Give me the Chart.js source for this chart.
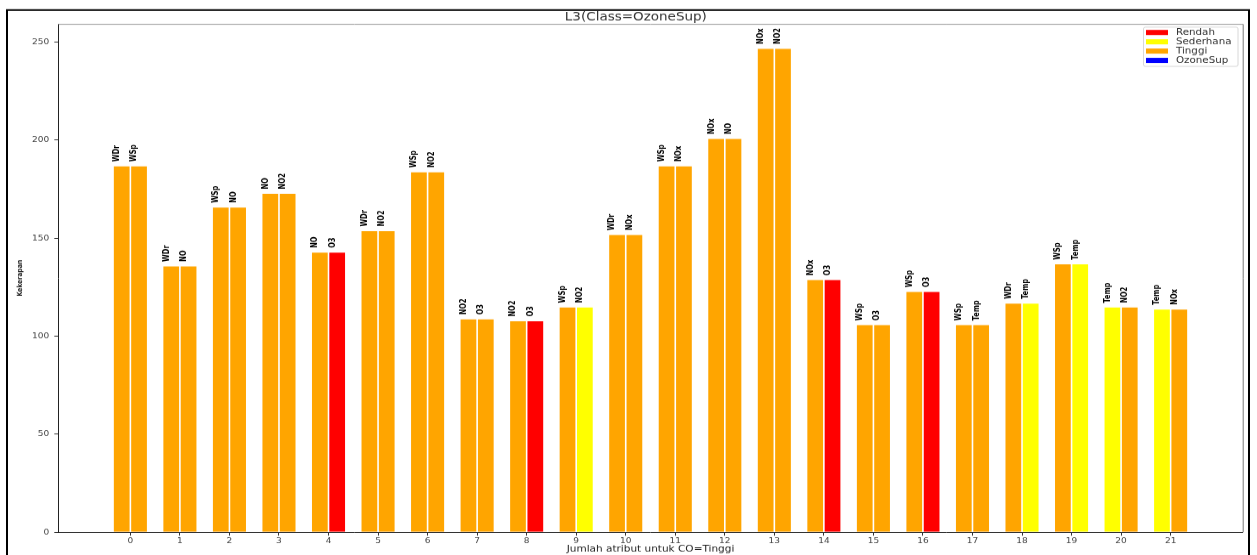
<!DOCTYPE html>
<html>
<head>
<meta charset="utf-8">
<script src="https://cdn.jsdelivr.net/npm/chart.js@4/dist/chart.umd.min.js"></script>
<style>
  html, body { margin: 0; padding: 0; background: #fff; overflow: hidden; }
  #wrap { width: 1257px; height: 653px; transform: scale(1, 0.8499); transform-origin: 0 0; }
  canvas { display: block; }
</style>
</head>
<body>
<div id="wrap"><canvas id="chart" width="1257" height="653"></canvas></div>
<script>
// Group index along the x axis
const categories = [0, 1, 2, 3, 4, 5, 6, 7, 8, 9, 10, 11, 12, 13, 14, 15, 16, 17, 18, 19, 20, 21];

// Counts for the left and right bar of each group
const firstValues  = [187, 136, 166, 173, 143, 154, 184, 109, 108, 115, 152, 187, 201, 247, 129, 106, 123, 106, 117, 137, 115, 114];
const secondValues = [187, 136, 166, 173, 143, 154, 184, 109, 108, 115, 152, 187, 201, 247, 129, 106, 123, 106, 117, 137, 115, 114];

// Attribute printed above each bar
const firstAttrs  = ['WDr', 'WDr', 'WSp', 'NO', 'NO', 'WDr', 'WSp', 'NO2', 'NO2', 'WSp', 'WDr', 'WSp', 'NOx', 'NOx', 'NOx', 'WSp', 'WSp', 'WSp', 'WDr', 'WSp', 'Temp', 'Temp'];
const secondAttrs = ['WSp', 'NO', 'NO', 'NO2', 'O3', 'NO2', 'NO2', 'O3', 'O3', 'NO2', 'NOx', 'NOx', 'NO', 'NO2', 'O3', 'O3', 'O3', 'Temp', 'Temp', 'Temp', 'NO2', 'NOx'];

// Level of each bar (drives its colour)
const firstLevels  = ['Tinggi', 'Tinggi', 'Tinggi', 'Tinggi', 'Tinggi', 'Tinggi', 'Tinggi', 'Tinggi', 'Tinggi', 'Tinggi', 'Tinggi', 'Tinggi', 'Tinggi', 'Tinggi', 'Tinggi', 'Tinggi', 'Tinggi', 'Tinggi', 'Tinggi', 'Tinggi', 'Sederhana', 'Sederhana'];
const secondLevels = ['Tinggi', 'Tinggi', 'Tinggi', 'Tinggi', 'Rendah', 'Tinggi', 'Tinggi', 'Tinggi', 'Rendah', 'Sederhana', 'Tinggi', 'Tinggi', 'Tinggi', 'Tinggi', 'Rendah', 'Tinggi', 'Rendah', 'Tinggi', 'Sederhana', 'Sederhana', 'Tinggi', 'Tinggi'];

// Legend entries
const legendLabels = ['Rendah', 'Sederhana', 'Tinggi', 'OzoneSup'];
const legendColors = ['#ff0000', '#ffff00', '#ffa500', '#0000ff'];

// Y axis ticks
const yTickValues = [0, 50, 100, 150, 200, 250];

const colorOf = lvl => legendColors[legendLabels.indexOf(lvl)];
const FONT = '"DejaVu Sans", Verdana, sans-serif';

// White figure background with a dark outer frame
const figureFrame = {
  id: 'figureFrame',
  beforeDraw(chart) {
    const { ctx, width, height } = chart;
    ctx.save();
    ctx.fillStyle = '#fff';
    ctx.fillRect(0, 0, width, height);
    ctx.strokeStyle = '#000';
    ctx.lineWidth = 2;
    ctx.strokeRect(7, 11.8, 1242, height + 20);
    ctx.restore();
  }
};

// Top and right spines of the axes box
const axesBox = {
  id: 'axesBox',
  afterDraw(chart) {
    const { ctx, chartArea: a } = chart;
    ctx.save();
    ctx.lineWidth = 1;
    ctx.strokeStyle = '#9a9a9a';
    ctx.beginPath();
    ctx.moveTo(a.left, a.top + 0.5);
    ctx.lineTo(a.right + 0.5, a.top + 0.5);
    ctx.stroke();
    ctx.strokeStyle = '#777';
    ctx.beginPath();
    ctx.moveTo(a.right + 0.5, a.top + 0.5);
    ctx.lineTo(a.right + 0.5, a.bottom);
    ctx.stroke();
    ctx.restore();
  }
};

// Vertical attribute names above the bars
const labelGap = 2;
const barLabels = {
  id: 'barLabels',
  afterDatasetsDraw(chart) {
    const { ctx } = chart;
    const yScale = chart.scales.y;
    ctx.save();
    ctx.font = 'bold 8px ' + FONT;
    ctx.fillStyle = '#000';
    ctx.textAlign = 'left';
    ctx.textBaseline = 'top';
    chart.data.datasets.forEach((ds, di) => {
      const meta = chart.getDatasetMeta(di);
      meta.data.forEach((bar, i) => {
        const left = bar.x - bar.width / 2;
        const base = yScale.getPixelForValue(ds.data[i].y + labelGap);
        ctx.save();
        ctx.translate(left, base);
        ctx.rotate(-Math.PI / 2);
        ctx.fillText(ds.attrs[i], 0, 0);
        ctx.restore();
      });
    });
    ctx.restore();
  }
};

// Legend box in the upper right corner of the axes
const levelLegend = {
  id: 'levelLegend',
  afterDraw(chart) {
    const { ctx } = chart;
    const bx = 1143, by = 31.4, bw = 94.5, bh = 46.2;
    ctx.save();
    ctx.fillStyle = 'rgba(255,255,255,0.9)';
    ctx.strokeStyle = '#d8d8d8';
    ctx.lineWidth = 1;
    ctx.beginPath();
    ctx.roundRect(bx + 0.5, by + 0.5, bw, bh, 2);
    ctx.fill();
    ctx.stroke();
    ctx.font = '10.3px ' + FONT;
    ctx.textBaseline = 'middle';
    ctx.textAlign = 'left';
    legendLabels.forEach((name, i) => {
      const cy = 38.2 + i * 10.95;
      ctx.fillStyle = legendColors[i];
      ctx.fillRect(1146, cy - 3, 22, 6);
      ctx.fillStyle = '#333';
      ctx.fillText(name, 1176, cy + 0.5);
    });
    ctx.restore();
  }
};

const makeSet = (values, levels, attrs) => ({
  data: categories.map((c, i) => ({ x: c, y: values[i] })),
  attrs: attrs,
  backgroundColor: levels.map(colorOf),
  borderColor: 'rgba(255,255,255,0.85)',
  borderWidth: 0.8,
  borderSkipped: 'start',
  categoryPercentage: 0.7,
  barPercentage: 1.0
});

new Chart(document.getElementById('chart'), {
  type: 'bar',
  data: {
    datasets: [
      makeSet(firstValues, firstLevels, firstAttrs),
      makeSet(secondValues, secondLevels, secondAttrs)
    ]
  },
  options: {
    responsive: false,
    animation: false,
    devicePixelRatio: 1,
    layout: { padding: { left: 29, right: 14.3, top: 0, bottom: 0 } },
    plugins: {
      legend: { display: false },
      tooltip: { enabled: false },
      title: {
        display: true,
        text: 'L3(Class=OzoneSup)',
        color: '#333',
        font: { family: FONT, size: 13.5, weight: 'normal', lineHeight: 1.2 },
        padding: { top: 11.9, bottom: 0 }
      }
    },
    scales: {
      x: {
        type: 'linear',
        min: -1.455,
        max: 22.455,
        offset: false,
        afterBuildTicks: s => { s.ticks = categories.map(v => ({ value: v })); },
        afterFit: s => { s.height = 26.7; },
        ticks: {
          color: '#444',
          font: { family: FONT, size: 9 },
          padding: 1,
          autoSkip: false,
          maxRotation: 0
        },
        grid: { display: true, offset: false, drawOnChartArea: false, drawTicks: true, tickLength: 4, tickColor: '#333' },
        border: { display: true, color: '#333', width: 1 },
        title: {
          display: true,
          text: 'Jumlah atribut untuk CO=Tinggi',
          color: '#222',
          font: { family: FONT, size: 10.5, lineHeight: 1.2 },
          padding: { top: 0, bottom: 0.4 }
        }
      },
      y: {
        type: 'linear',
        min: 0,
        max: 259.35,
        afterBuildTicks: s => { s.ticks = yTickValues.map(v => ({ value: v })); },
        afterFit: s => { s.width = 29.3; },
        ticks: {
          color: '#444',
          font: { family: FONT, size: 9 },
          padding: 5
        },
        grid: { display: true, drawOnChartArea: false, drawTicks: true, tickLength: 4, tickColor: '#333' },
        border: { display: true, color: '#222', width: 1 },
        title: {
          display: true,
          text: 'Kekerapan',
          color: '#222',
          font: { family: FONT, size: 7.2, weight: 'bold', lineHeight: 1.2 },
          padding: { top: -13.3, bottom: 0 }
        }
      }
    }
  },
  plugins: [figureFrame, barLabels, axesBox, levelLegend]
});
</script>
</body>
</html>
